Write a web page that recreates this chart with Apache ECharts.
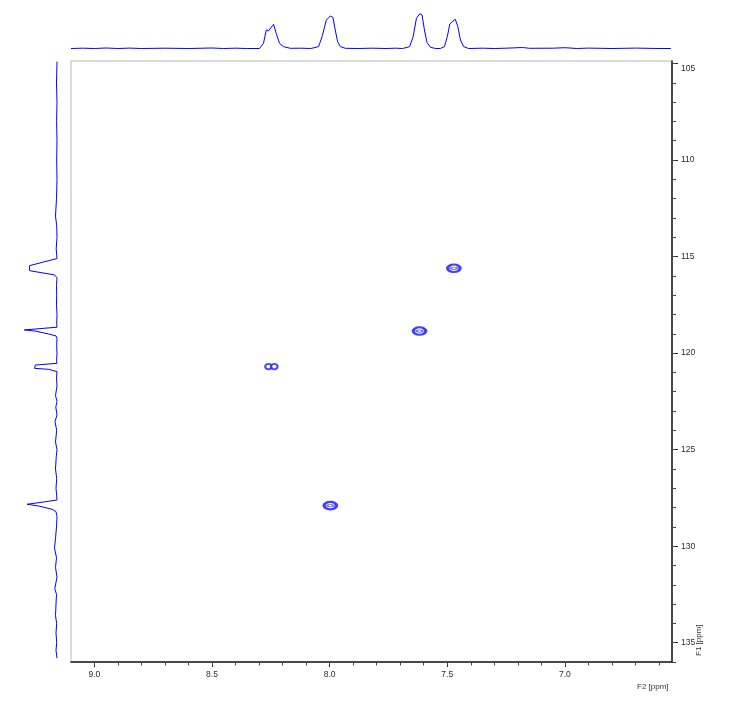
<!DOCTYPE html>
<html>
<head>
<meta charset="utf-8">
<script src="https://cdn.jsdelivr.net/npm/echarts@6/dist/echarts.min.js"></script>
<style>
html,body{margin:0;padding:0;background:#fff;}
#chart{width:739px;height:703px;}
</style>
</head>
<body>
<div id="chart"></div>
<script>
// ---- Data ----
// F2 (1H) projection: chemical shift (ppm) and intensity
const topPpm = [9.099, 9.05, 9.0, 8.95, 8.9, 8.85, 8.8, 8.7, 8.6, 8.5, 8.45, 8.4, 8.35, 8.298,
  8.281, 8.269, 8.260, 8.238, 8.227, 8.213, 8.196, 8.167, 8.12, 8.08,
  8.047, 8.032, 8.014, 7.997, 7.986, 7.976, 7.966, 7.954, 7.933,
  7.88, 7.82, 7.76, 7.72, 7.69,
  7.660, 7.645, 7.631, 7.617, 7.607, 7.597, 7.586, 7.571, 7.550, 7.53,
  7.512, 7.500, 7.489, 7.479, 7.466, 7.455, 7.444, 7.430, 7.409,
  7.35, 7.30, 7.25, 7.18, 7.15, 7.05, 7.0, 6.95, 6.9, 6.8, 6.7, 6.6, 6.55];
const topInt = [0, 0.3, 0, 0.5, 0, 0.4, 0, 0.3, 0, 0.5, 0, 0.3, 0, 0,
  5.2, 18.5, 17.5, 24.2, 15.2, 5.2, 1.8, 0.2, 0.3, 0,
  1.8, 11.8, 28.5, 32.5, 31.2, 18.5, 6.8, 1.8, 0.2,
  0, 0.3, 0, 0.3, 0,
  1.8, 11.8, 30.2, 34.8, 33.5, 18.5, 5.8, 1.2, 0, 0,
  1.8, 11.8, 24.5, 26.8, 29.2, 21.8, 8.5, 1.8, 0,
  0.3, 0, 0.3, 1.0, 0.2, 0.3, 0.8, 0, 0.4, 0, 0.4, 0, 0];

// F1 (15N) projection: chemical shift (ppm) and intensity
const leftPpm = [104.9, 106, 107, 108, 109, 110, 111, 112, 112.9, 113.4, 114, 114.6, 115.1,
  115.18, 115.47, 115.73, 115.84, 115.95, 116.1, 116.5, 117, 117.5, 118, 118.5,
  118.66, 118.80, 118.86, 119.01, 119.11, 119.25, 119.6, 120, 120.4,
  120.53, 120.62, 120.79, 120.84, 120.96, 121.3, 121.7, 122.2, 122.5, 122.8, 123.2,
  123.55, 124, 124.6, 125, 125.4, 126, 126.5, 127, 127.4,
  127.61, 127.70, 127.83, 127.92, 128.09, 128.21, 128.47, 129, 129.6, 130.1, 130.6,
  131.1, 131.6, 132.2, 132.5, 133, 133.6, 134, 134.5, 135, 135.4, 135.8];
const leftInt = [0, 0.5, 0, 0.4, 0, 0.3, 0, 0.5, 1.5, 0.3, 0, 0.8, 0,
  1.5, 27.4, 27.4, 15, 2.4, 0, 0.5, 0.3, 0.5, 0, 0.3,
  0, 32.7, 21.7, 8.4, 1, 0, 0.3, 0, 0.4,
  0, 21.7, 22.4, 8.4, 0, 0.5, 0, 1.5, 0, 1.2, 0,
  2.0, 0.3, 1.5, 0, 0.8, 1.5, 0.3, 1, 0.3,
  0, 11.7, 30, 18.4, 5, 1, 0, 0.5, 1.5, 2.5, 0.5,
  1.5, 0, 2.2, 0.5, 1, 1.5, 0.3, 1, 0.3, 1, 0];

// 2D cross peaks (F2 ppm, F1 ppm)
const peakF2 = [7.472, 7.618, 7.997];
const peakF1 = [115.61, 118.86, 127.90];
// doublet cross peak components
const doubletF2 = [8.260, 8.235];
const doubletF1 = [120.70, 120.70];

// Axis tick labels
const f2Labels = [9.0, 8.5, 8.0, 7.5, 7.0];
const f1Labels = [105, 110, 115, 120, 125, 130, 135];
const f2Minor = [9.0, 8.9, 8.8, 8.7, 8.6, 8.5, 8.4, 8.3, 8.2, 8.1, 8.0, 7.9, 7.8, 7.7, 7.6, 7.5, 7.4, 7.3, 7.2, 7.1, 7.0, 6.9, 6.8, 6.7, 6.6];
const f1Minor = [105,106,107,108,109,110,111,112,113,114,115,116,117,118,119,120,121,122,123,124,125,126,127,128,129,130,131,132,133,134,135,136];

// ---- Chart ----
const F2_MIN = 6.545, F2_MAX = 9.099;
const F1_MIN = 104.87, F1_MAX = 136.0;
const BLUE = '#0000ff';
const ELLIPSE = 'path://M0,1 A1,1 0 1,1 2,1 A1,1 0 1,1 0,1 Z';
const font = {fontFamily: 'Liberation Sans', fontSize: 8.5, color: '#2b2b2b'};

const chart = echarts.init(document.getElementById('chart'), null, {renderer: 'canvas'});

const topData = topPpm.map((p, i) => [p, topInt[i]]);
const leftData = leftPpm.map((p, i) => [leftInt[i], p]);
const peakData = peakF2.map((p, i) => [p, peakF1[i]]);
const dblData = doubletF2.map((p, i) => [p, doubletF1[i]]);

chart.setOption({
  animation: false,
  backgroundColor: '#fff',
  grid: [
    {left: 71, top: 61, width: 601, height: 601, show: true, borderColor: '#cfcfcf', borderWidth: 1.5, backgroundColor: '#fff'},
    {left: 71, top: 0, width: 601, height: 48.5},
    {left: 0, top: 61, width: 57, height: 601}
  ],
  xAxis: [
    {gridIndex: 0, type: 'value', inverse: true, min: F2_MIN, max: F2_MAX, position: 'bottom',
      axisLine: {show: true, onZero: false, lineStyle: {color: '#1a1a1a', width: 1.5}},
      axisTick: {show: true, customValues: f2Labels, length: 5, lineStyle: {color: '#222'}},
      axisLabel: {show: true, customValues: f2Labels, margin: 8, formatter: v => Number(v).toFixed(1), ...font},
      splitLine: {show: false}},
    {gridIndex: 0, type: 'value', inverse: true, min: F2_MIN, max: F2_MAX, position: 'bottom',
      axisLine: {show: false, onZero: false},
      axisTick: {show: true, customValues: f2Minor, length: 3.5, lineStyle: {color: '#444'}},
      axisLabel: {show: false}, splitLine: {show: false}},
    {gridIndex: 1, type: 'value', inverse: true, min: F2_MIN, max: F2_MAX, show: false},
    {gridIndex: 2, type: 'value', inverse: true, min: 0, max: 57, show: false}
  ],
  yAxis: [
    {gridIndex: 0, type: 'value', inverse: true, min: F1_MIN, max: F1_MAX, position: 'right',
      axisLine: {show: true, onZero: false, lineStyle: {color: '#1a1a1a', width: 1.5}},
      axisTick: {show: true, customValues: f1Labels, length: 6, lineStyle: {color: '#222'}},
      axisLabel: {show: true, customValues: f1Labels, margin: 9,
        formatter: v => (Math.round(v) === f1Labels[0] ? '{first|' + Math.round(v) + '}' : String(Math.round(v))),
        rich: {first: {padding: [10, 0, 0, 0], fontFamily: 'Liberation Sans', fontSize: 8.5, color: '#2b2b2b'}},
        ...font},
      splitLine: {show: false}},
    {gridIndex: 0, type: 'value', inverse: true, min: F1_MIN, max: F1_MAX, position: 'right',
      axisLine: {show: false, onZero: false},
      axisTick: {show: true, customValues: f1Minor, length: 4, lineStyle: {color: '#444'}},
      axisLabel: {show: false}, splitLine: {show: false}},
    {gridIndex: 1, type: 'value', min: 0, max: 48.5, show: false},
    {gridIndex: 2, type: 'value', inverse: true, min: F1_MIN, max: F1_MAX, show: false}
  ],
  series: [
    {type: 'line', xAxisIndex: 2, yAxisIndex: 2, data: topData, showSymbol: false, symbol: 'none',
      lineStyle: {color: BLUE, width: 1}, smooth: false, silent: true},
    {type: 'line', xAxisIndex: 3, yAxisIndex: 3, data: leftData, showSymbol: false, symbol: 'none',
      lineStyle: {color: BLUE, width: 1}, smooth: false, silent: true},
    {type: 'scatter', xAxisIndex: 0, yAxisIndex: 0, data: peakData, symbol: ELLIPSE, symbolSize: [12.5, 7.5],
      itemStyle: {color: '#ffffff', borderColor: '#0f0fff', borderWidth: 2.6}, silent: true, z: 5},
    {type: 'scatter', xAxisIndex: 0, yAxisIndex: 0, data: peakData, symbol: ELLIPSE, symbolSize: [6, 2.5],
      itemStyle: {color: '#ffffff', borderColor: '#3a3aff', borderWidth: 1.3}, silent: true, z: 6},
    {type: 'scatter', xAxisIndex: 0, yAxisIndex: 0, data: dblData, symbol: ELLIPSE, symbolSize: [6.5, 5.5],
      itemStyle: {color: '#ffffff', borderColor: '#1a1aff', borderWidth: 2}, silent: true, z: 5}
  ],
  graphic: [
    {type: 'text', left: 637, top: 683, style: {text: 'F2 [ppm]', fontFamily: 'Liberation Sans', fontSize: 8, fill: '#333'}},
    {type: 'text', x: 695, y: 656, rotation: Math.PI / 2, style: {text: 'F1 [ppm]', fontFamily: 'Liberation Sans', fontSize: 8, fill: '#333'}}
  ]
});
</script>
</body>
</html>
